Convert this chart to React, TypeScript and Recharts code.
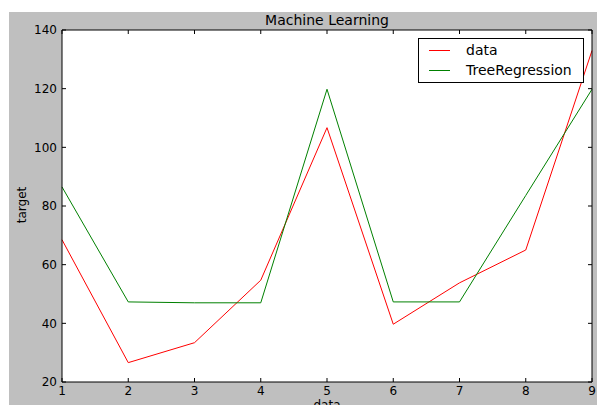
import React from 'react';
import { LineChart, Line, XAxis, YAxis, Legend } from 'recharts';

const xValues = [1, 2, 3, 4, 5, 6, 7, 8, 9];
const dataSeries = [68.5, 26.6, 33.4, 54.7, 106.7, 39.7, 53.8, 65.0, 133.0];
const treeSeries = [86.5, 47.3, 47.0, 47.0, 119.8, 47.3, 47.3, 83.6, 119.8];
const xTicks = [1, 2, 3, 4, 5, 6, 7, 8, 9];
const yTicks = [20, 40, 60, 80, 100, 120, 140];
const seriesNames = ['data', 'TreeRegression'];
const seriesColors = ['#ff0000', '#008000'];

const rows = xValues.map((x, i) => ({ x, data: dataSeries[i], tree: treeSeries[i] }));

const font = '"DejaVu Sans", sans-serif';
const tickStyle = { fontSize: 12, fill: '#000', fontFamily: font };

const LegendBox = () => (
  <div
    style={{
      background: '#fff',
      border: '1px solid #000',
      width: 166,
      height: 45,
      boxSizing: 'border-box',
      fontFamily: font,
      fontSize: 14,
      color: '#000',
      padding: '1px 0 0 10px',
    }}
  >
    {seriesNames.map((name, i) => (
      <div key={name} style={{ display: 'flex', alignItems: 'center', height: 20 }}>
        <div style={{ width: 21, height: 0, borderTop: `1px solid ${seriesColors[i]}`, marginRight: 16 }} />
        <span>{name}</span>
      </div>
    ))}
  </div>
);

export default function App() {
  return (
    <div style={{ position: 'absolute', left: 0, top: 0, width: 597, height: 405, background: '#fff', overflow: 'hidden' }}>
      <div style={{ position: 'absolute', left: 9, top: 12, width: 588, height: 393, background: '#bfbfbf' }} />
      <div style={{ position: 'absolute', left: 0, top: 12, width: 654, textAlign: 'center', fontFamily: font, fontSize: 14, color: '#000', lineHeight: '16px' }}>
        Machine Learning
      </div>
      <div
        style={{
          position: 'absolute',
          left: 22,
          top: 205,
          transform: 'translate(-50%, -50%) rotate(-90deg)',
          fontFamily: font,
          fontSize: 12,
          color: '#000',
        }}
      >
        target
      </div>
      <div style={{ position: 'absolute', left: 0, top: 398, width: 654, textAlign: 'center', fontFamily: font, fontSize: 12, color: '#000', lineHeight: '14px' }}>
        data
      </div>
      <div style={{ position: 'absolute', left: 62, top: 30, width: 530, height: 352, background: '#fff' }} />
      <div style={{ position: 'absolute', left: 0, top: 0 }}>
        <LineChart width={597} height={405} data={rows} margin={{ top: 29, right: 4, bottom: 3, left: 2 }}>
          <XAxis
            dataKey="x"
            type="number"
            domain={[1, 9]}
            ticks={xTicks}
            height={20}
            tickSize={-4}
            tickMargin={8}
            tick={tickStyle}
            stroke="#000"
          />
          <XAxis
            xAxisId="top"
            orientation="top"
            dataKey="x"
            type="number"
            domain={[1, 9]}
            ticks={xTicks}
            height={1}
            tickSize={-4}
            tickFormatter={() => ''}
            stroke="#000"
          />
          <YAxis
            type="number"
            domain={[20, 140]}
            ticks={yTicks}
            width={60}
            tickSize={-4}
            tickMargin={9}
            tick={tickStyle}
            stroke="#000"
          />
          <YAxis
            yAxisId="right"
            orientation="right"
            type="number"
            domain={[20, 140]}
            ticks={yTicks}
            width={1}
            tickSize={-4}
            tickFormatter={() => ''}
            stroke="#000"
          />
          <Legend
            layout="vertical"
            align="center"
            verticalAlign="middle"
            content={<LegendBox />}
            wrapperStyle={{ position: 'absolute', left: 418, top: 38, width: 'auto', height: 'auto' }}
          />
          <Line dataKey="data" name={seriesNames[0]} stroke={seriesColors[0]} strokeWidth={1} dot={false} isAnimationActive={false} />
          <Line dataKey="tree" name={seriesNames[1]} stroke={seriesColors[1]} strokeWidth={1} dot={false} isAnimationActive={false} />
          <Line dataKey="tree" xAxisId="top" yAxisId="right" stroke="none" legendType="none" dot={false} activeDot={false} isAnimationActive={false} />
        </LineChart>
      </div>
    </div>
  );
}
